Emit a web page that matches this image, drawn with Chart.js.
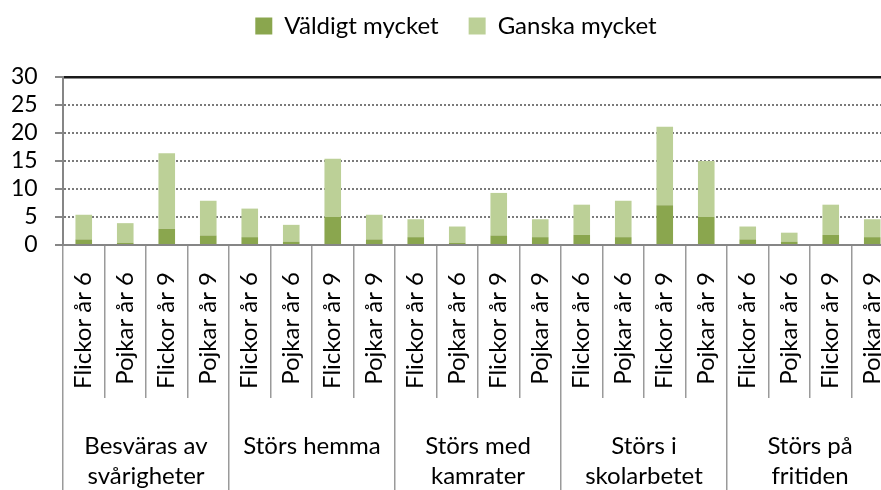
<!DOCTYPE html>
<html>
<head>
<meta charset="utf-8">
<script src="https://cdn.jsdelivr.net/npm/chart.js@4/dist/chart.umd.min.js"></script>
<style>
  html, body { margin: 0; padding: 0; background: #fff; overflow: hidden; }
  #wrap { width: 930px; height: 490px; }
</style>
</head>
<body>
<div id="wrap"><canvas id="c" width="930" height="490"></canvas></div>
<script>
const categories = [
  "Flickor år 6", "Pojkar år 6", "Flickor år 9", "Pojkar år 9",
  "Flickor år 6", "Pojkar år 6", "Flickor år 9", "Pojkar år 9",
  "Flickor år 6", "Pojkar år 6", "Flickor år 9", "Pojkar år 9",
  "Flickor år 6", "Pojkar år 6", "Flickor år 9", "Pojkar år 9",
  "Flickor år 6", "Pojkar år 6", "Flickor år 9", "Pojkar år 9"
];
const groupLabels = [
  ["Besväras av", "svårigheter"],
  ["Störs hemma"],
  ["Störs med", "kamrater"],
  ["Störs i", "skolarbetet"],
  ["Störs på", "fritiden"]
];
const valdigtMycket = [1.0, 0.4, 2.9, 1.7, 1.4, 0.6, 5.0, 1.0, 1.4, 0.4, 1.7, 1.4, 1.8, 1.4, 7.1, 5.0, 1.0, 0.6, 1.8, 1.4];
const ganskaMycket  = [4.4, 3.5, 13.5, 6.2, 5.1, 3.0, 10.4, 4.4, 3.2, 2.9, 7.6, 3.2, 5.4, 6.5, 14.0, 10.0, 2.3, 1.6, 5.4, 3.2];
const yMin = 0, yMax = 30, yStep = 5;

Chart.defaults.font.family = "Lato, 'Open Sans', sans-serif";
Chart.defaults.color = "#000";

new Chart(document.getElementById("c"), {
  type: "bar",
  data: {
    labels: categories,
    datasets: [
      { label: "Väldigt mycket", data: valdigtMycket, backgroundColor: "#8aa64e", borderWidth: 0, xAxisID: "x", yAxisID: "y" },
      { label: "Ganska mycket", data: ganskaMycket, backgroundColor: "#bcd097", borderWidth: 0, xAxisID: "x", yAxisID: "y" }
    ]
  },
  options: {
    responsive: false,
    animation: false,
    layout: { padding: { left: 19, right: 37, top: -16, bottom: 0 } },
    datasets: { bar: { categoryPercentage: 1.0, barPercentage: 0.4 } },
    plugins: {
      tooltip: { enabled: false },
      legend: {
        position: "top",
        weight: 1000,
        labels: {
          boxWidth: 17, boxHeight: 17, padding: 30,
          font: { size: 24 }, color: "#000"
        }
      }
    },
    scales: {
      x: {
        stacked: true,
        position: "bottom",
        weight: 0,
        offset: true,
        grid: {
          offset: true, drawOnChartArea: false, drawTicks: true,
          tickLength: 153, color: "#9a9a9a", lineWidth: 1.5, tickColor: "#9a9a9a", tickWidth: 1.5
        },
        border: { display: true, color: "#868686", width: 2 },
        ticks: {
          autoSkip: false, minRotation: 90, maxRotation: 90,
          padding: -126, font: { size: 24 }, color: "#000"
        },
        afterFit: (s) => { s.height = 153; }
      },
      x2: {
        type: "category",
        position: "bottom",
        weight: 1,
        labels: groupLabels,
        offset: true,
        grid: {
          offset: true, drawOnChartArea: false, drawTicks: true,
          tickLength: 92, color: "#9a9a9a", lineWidth: 1.5, tickColor: "#9a9a9a", tickWidth: 1.5
        },
        border: { display: false },
        ticks: {
          autoSkip: false, maxRotation: 0, minRotation: 0,
          padding: -59, font: { size: 24, lineHeight: 1.25 }, color: "#000"
        },
        afterFit: (s) => { s.height = 92; }
      },
      xTop: {
        type: "category",
        position: "top",
        labels: [""],
        weight: 0,
        ticks: { display: false },
        grid: { display: false, drawTicks: false },
        border: { display: true, color: "#1a1a1a", width: 2.5 },
        afterFit: (s) => { s.height = 29; }
      },
      y: {
        stacked: true,
        min: yMin, max: yMax,
        ticks: {
          stepSize: yStep, autoSkip: false, mirror: true, crossAlign: "far",
          padding: -52, font: { size: 23 }, color: "#000"
        },
        grid: {
          color: "#7a7a7a", lineWidth: 2,
          drawTicks: true, tickLength: 8, tickColor: "#868686", tickWidth: 2
        },
        border: { display: true, color: "#868686", width: 2, dash: [2, 2] },
        afterFit: (s) => { s.width = 44; }
      }
    }
  }
});
</script>
</body>
</html>
